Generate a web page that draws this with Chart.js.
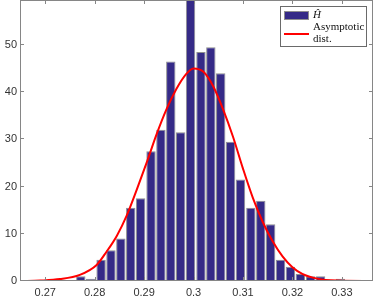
<!DOCTYPE html>
<html>
<head>
<meta charset="utf-8">
<script src="https://cdn.jsdelivr.net/npm/chart.js@4.4.0/dist/chart.umd.min.js"></script>
<style>
  body { margin: 0; background: #fff; }
  #wrap { width: 374px; height: 300px; }
</style>
</head>
<body>
<div id="wrap"><canvas id="hist-chart" width="374" height="300"></canvas></div>
<script>
// histogram bins (centres) and their normalised heights
const binCenters = [0.2772, 0.2792, 0.2813, 0.2833, 0.2853, 0.2873, 0.2893, 0.2914, 0.2934,
  0.2954, 0.2974, 0.2994, 0.3015, 0.3035, 0.3055, 0.3075, 0.3095, 0.3116, 0.3136, 0.3156,
  0.3176, 0.3196, 0.3216, 0.3237, 0.3257, 0.3277, 0.3297];
const binHeights = [1, 0.5, 4.5, 6.5, 9, 15.5, 17.5, 27.5, 32, 46.5, 31.5, 59.5, 48.5, 49.5,
  44, 29.5, 21.5, 15.5, 17, 12, 4.5, 3, 1.5, 1, 1, 0, 0.5];

// asymptotic distribution curve
const curveX = [0.2650, 0.2690, 0.2730, 0.2770, 0.2804, 0.2824, 0.2845, 0.2865, 0.2885, 0.2905,
  0.2925, 0.2945, 0.2965, 0.2985, 0.3000, 0.3020, 0.3040, 0.3060, 0.3080, 0.3100, 0.3120,
  0.3140, 0.3160, 0.3180, 0.3200, 0.3220, 0.3250, 0.3290, 0.3363];
const curveY = [0.0, 0.1, 0.4, 1.3, 3.4, 6.2, 9.6, 13.9, 19.3, 25.0,
  31.0, 36.3, 40.6, 43.8, 45.0, 44.3, 41.2, 36.3, 30.5, 23.8, 17.6,
  12.5, 8.4, 5.2, 2.9, 1.5, 0.5, 0.1, 0.0];

const xTicks = [0.27, 0.28, 0.29, 0.3, 0.31, 0.32, 0.33];
const yTicks = [0, 10, 20, 30, 40, 50];
const legendLabels = ['\u0124', 'Asymptotic', 'dist.'];

const barColor = '#352a87';
const frameColor = '#868686';

// MATLAB style box with inward ticks + legend
const framePlugin = {
  id: 'frame',
  afterDraw(chart) {
    const ctx = chart.ctx;
    const a = chart.chartArea;
    const xs = chart.scales.x;
    const ys = chart.scales.y;
    ctx.save();
    ctx.strokeStyle = frameColor;
    ctx.lineWidth = 1;
    ctx.strokeRect(a.left + 0.5, a.top + 0.5, a.right - a.left - 1, a.bottom - a.top - 1);
    ctx.beginPath();
    xTicks.forEach(v => {
      const px = Math.round(xs.getPixelForValue(v)) + 0.5;
      ctx.moveTo(px, a.bottom); ctx.lineTo(px, a.bottom - 4);
      ctx.moveTo(px, a.top); ctx.lineTo(px, a.top + 4);
    });
    yTicks.forEach(v => {
      const py = Math.round(ys.getPixelForValue(v)) - 0.5;
      ctx.moveTo(a.left, py); ctx.lineTo(a.left + 4, py);
      ctx.moveTo(a.right, py); ctx.lineTo(a.right - 4, py);
    });
    ctx.stroke();

    // legend
    ctx.fillStyle = '#fff';
    ctx.fillRect(280, 6, 87, 41);
    ctx.strokeStyle = '#6a6a6a';
    ctx.strokeRect(280.5, 6.5, 86, 40);
    ctx.fillStyle = barColor;
    ctx.fillRect(284, 11, 25, 9);
    ctx.strokeStyle = '#8f8f8f';
    ctx.strokeRect(284.5, 11.5, 24, 8);
    ctx.strokeStyle = '#ff0000';
    ctx.lineWidth = 2;
    ctx.beginPath();
    ctx.moveTo(284, 34); ctx.lineTo(309, 34);
    ctx.stroke();
    ctx.fillStyle = '#111';
    ctx.textBaseline = 'middle';
    ctx.font = 'italic 11px "Liberation Serif"';
    ctx.fillText(legendLabels[0], 313, 15.5);
    ctx.font = '11px "Liberation Serif"';
    ctx.fillText(legendLabels[1], 313, 27.5);
    ctx.fillText(legendLabels[2], 313, 39.5);
    ctx.restore();
  }
};

const ctx = document.getElementById('hist-chart').getContext('2d');
new Chart(ctx, {
  type: 'bar',
  data: {
    datasets: [
      {
        type: 'line',
        label: 'Asymptotic dist.',
        data: curveX.map((x, i) => ({ x: x, y: curveY[i] })),
        borderColor: '#ff0000',
        borderWidth: 2,
        pointRadius: 0,
        cubicInterpolationMode: 'monotone',
        order: 0,
      },
      {
        label: 'H',
        data: binCenters.map((x, i) => ({ x: x, y: binHeights[i] })),
        backgroundColor: barColor,
        borderColor: '#8f8f8f',
        borderWidth: 1,
        barPercentage: 0.95,
        categoryPercentage: 1.0,
        order: 1,
      },
    ],
  },
  options: {
    responsive: false,
    animation: false,
    layout: { padding: { top: 0, right: 1, left: 0, bottom: 0 } },
    plugins: { legend: { display: false }, tooltip: { enabled: false } },
    scales: {
      x: {
        type: 'linear',
        offset: false,
        min: 0.2649,
        max: 0.3363,
        grid: { display: false, drawTicks: false },
        border: { display: false },
        afterBuildTicks: (s) => { s.ticks = xTicks.map(v => ({ value: v })); },
        afterFit: (s) => {
          s.height = 19;
          s.paddingLeft = 0; s.paddingRight = 0;
        },
        ticks: {
          padding: 5,
          maxRotation: 0,
          color: '#333',
          font: { family: '"Liberation Sans"', size: 11 },
          callback: (v) => String(v),
        },
      },
      y: {
        min: 0,
        max: 59.5,
        grid: { display: false, drawTicks: false },
        border: { display: false },
        afterBuildTicks: (s) => { s.ticks = yTicks.map(v => ({ value: v })); },
        afterFit: (s) => {
          s.width = 20;
          s.paddingTop = 0; s.paddingBottom = 0;
        },
        ticks: {
          padding: 3,
          color: '#333',
          font: { family: '"Liberation Sans"', size: 11 },
        },
      },
    },
  },
  plugins: [framePlugin],
});
</script>
</body>
</html>
